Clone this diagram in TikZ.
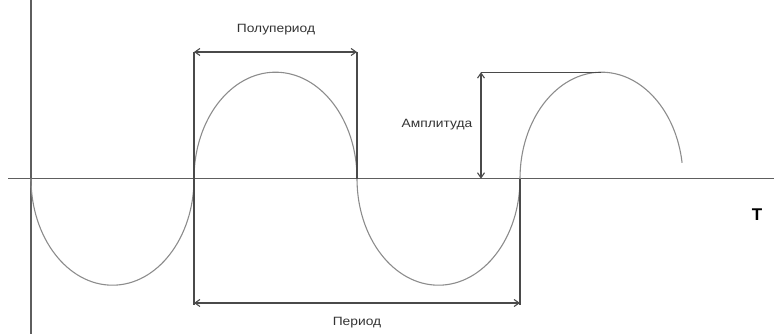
\documentclass[tikz,border=0pt]{standalone}
\usepackage{fontspec}
\setmainfont{Liberation Sans}
\usetikzlibrary{arrows.meta}
\definecolor{axisgray}{HTML}{5E5E5E}
\definecolor{curvegray}{HTML}{8C8C8C}
\definecolor{dimgray}{HTML}{4A4A4A}
\definecolor{txtgray}{HTML}{333333}
\tikzset{
  axisline/.style={draw=axisgray, line width=1.5pt},
  wave/.style={draw=curvegray, line width=1.1pt},
  dimline/.style={draw=dimgray, line width=1.1pt},
  dimarrow/.style={dimline, {Straight Barb[length=5pt,width=7pt]}-{Straight Barb[length=5pt,width=7pt]}},
  lbl/.style={text=txtgray, font=\fontsize{12}{14}\selectfont, inner sep=0pt, xscale=1.15, transform shape},
  tlbl/.style={text=black, font=\fontsize{17}{20}\selectfont\bfseries, inner sep=0pt}
}
\begin{document}
\begin{tikzpicture}[x=1pt,y=1pt]
\useasboundingbox (0,0) rectangle (774,334);
% axes
\coordinate (hl) at (8,155.3);
\coordinate (hr) at (774,155.3);
\coordinate (vt) at (31,334);
\coordinate (vb) at (31,0);
\draw[axisline] (hl) -- (hr);
\draw[axisline] (vb) -- (vt);
% wave (semi-ellipses)
\draw[wave] (31,155.3) arc[start angle=180, end angle=360, x radius=81.5, y radius=106.5]
  arc[start angle=180, end angle=0, x radius=81.5, y radius=106.5]
  arc[start angle=180, end angle=360, x radius=81.5, y radius=106.5]
  arc[start angle=180, end angle=8.6, x radius=81.5, y radius=106.5];
% dimension coordinates
\coordinate (a1) at (194,282);
\coordinate (a2) at (357,282);
\coordinate (a2b) at (357,155.3);
\coordinate (b1) at (194,29);
\coordinate (b2) at (520,29);
\coordinate (b2t) at (520,155.3);
\coordinate (p1) at (194,31);
\coordinate (p2) at (520,31);
\coordinate (m1) at (481,261.8);
\coordinate (m2) at (601,261.8);
\coordinate (m3) at (481,155.3);
% extension lines
\draw[dimline] (a1) -- (b1);
\draw[dimline] (a2) -- (a2b);
\draw[dimline] (b2t) -- (b2);
\draw[dimline] (m1) -- (m2);
% arrows
\draw[dimarrow] (a1) -- (a2);
\draw[dimarrow] (p1) -- (p2);
\draw[dimarrow] (m1) -- (m3);
% labels
\node[lbl] (lhalf) at (276,304) {Полупериод};
\node[lbl] (lamp) at (437,209) {Амплитуда};
\node[lbl] (lper) at (357,11) {Период};
\node[tlbl] (lt) at (757,119) {T};
\end{tikzpicture}
\end{document}
